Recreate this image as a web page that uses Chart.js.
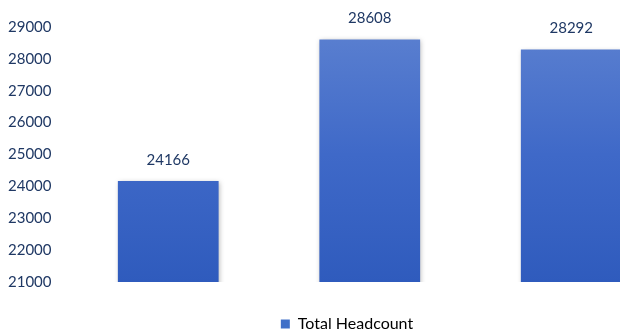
<!DOCTYPE html>
<html>
<head>
<meta charset="utf-8">
<script src="https://cdn.jsdelivr.net/npm/chart.js@4"></script>
<style>
  html, body { margin: 0; padding: 0; background: #fff; overflow: hidden; height: 334px; }
  #wrap { width: 694px; height: 342px; }
</style>
</head>
<body>
<div id="wrap"><canvas id="myChart"></canvas></div>
<script>
const categories = ["Period 1", "Period 2", "Period 3"];
const headcount = [24166, 28608, 28292];
const yTicks = [21000, 22000, 23000, 24000, 25000, 26000, 27000, 28000, 29000];

const textColor = "#1F3864";

// bar shadow + value labels above bars, legend nudged to page centre
const barExtras = {
  id: "barExtras",
  afterLayout: (chart) => {
    chart.legend.left += 11;
    chart.legend.right += 11;
  },
  beforeDatasetsDraw: (chart) => {
    const { ctx } = chart;
    ctx.save();
    ctx.shadowColor = "rgba(0,0,0,0.28)";
    ctx.shadowBlur = 5;
    ctx.shadowOffsetX = 1;
    ctx.shadowOffsetY = 1;
  },
  afterDatasetsDraw: (chart) => {
    const { ctx } = chart;
    ctx.restore();
    ctx.save();
    ctx.fillStyle = textColor;
    ctx.font = "15px Lato";
    ctx.textAlign = "center";
    ctx.textBaseline = "middle";
    chart.getDatasetMeta(0).data.forEach((bar, i) => {
      ctx.fillText(headcount[i], bar.x, bar.y - 21);
    });
    ctx.restore();
  },
};

const ctx = document.getElementById("myChart");

new Chart(ctx, {
  type: "bar",
  data: {
    labels: categories,
    datasets: [
      {
        label: "Total Headcount",
        data: headcount,
        barPercentage: 0.5,
        categoryPercentage: 1.0,
        borderWidth: 0,
        backgroundColor: (c) => {
          const area = c.chart.chartArea;
          if (!area) return "#4472C4";
          const g = c.chart.ctx.createLinearGradient(0, area.top, 0, area.bottom);
          g.addColorStop(0, "#5B80D0");
          g.addColorStop(0.5, "#3F69C8");
          g.addColorStop(1, "#2F5BBD");
          return g;
        },
      },
    ],
  },
  options: {
    responsive: true,
    maintainAspectRatio: false,
    animation: false,
    layout: { padding: { left: 0, right: 22, top: 27, bottom: 0 } },
    plugins: {
      legend: {
        position: "bottom",
        labels: {
          color: textColor,
          font: { family: "Lato", size: 16 },
          boxWidth: 9,
          boxHeight: 9,
          padding: 4,
          generateLabels: (chart) => [
            {
              text: "Total Headcount",
              fillStyle: "#4070C8",
              strokeStyle: "#4070C8",
              lineWidth: 0,
              datasetIndex: 0,
            },
          ],
        },
      },
      tooltip: { enabled: false },
    },
    scales: {
      y: {
        min: 21000,
        max: 29000,
        afterBuildTicks: (axis) => {
          axis.ticks = yTicks.map((v) => ({ value: v }));
        },
        grid: { display: false },
        border: { display: false },
        ticks: {
          color: textColor,
          font: { family: "Lato", size: 15 },
          padding: 8,
          callback: (v) => String(v),
        },
      },
      x: {
        grid: { display: false },
        border: { display: false },
        ticks: { display: false },
        afterFit: (axis) => {
          axis.height = 30;
        },
      },
    },
  },
  plugins: [barExtras],
});
</script>
</body>
</html>
